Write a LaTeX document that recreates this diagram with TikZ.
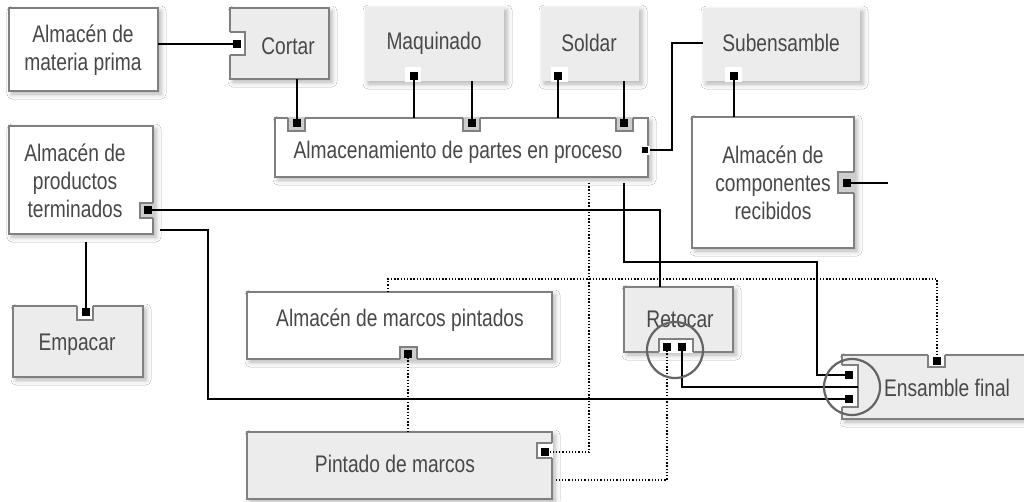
\documentclass[tikz,border=0pt]{standalone}
\usepackage{fontspec}
\setmainfont[FakeStretch=0.8]{Liberation Sans}
\usetikzlibrary{shadows.blur}
\definecolor{txt}{RGB}{72,72,72}
\definecolor{bordc}{RGB}{128,128,128}
\definecolor{gfill}{RGB}{236,236,236}
\definecolor{nfill}{RGB}{205,205,205}
\definecolor{circc}{RGB}{100,100,100}
\newcommand\mynotchT[5]{\fill[#5] (#1,#3-1) rectangle (#2,#4); \draw[outl] (#1,#3) -- (#1,#4) -- (#2,#4) -- (#2,#3);}
\newcommand\mynotchB[5]{\fill[#5] (#1,#3+1) rectangle (#2,#4); \draw[outl] (#1,#3) -- (#1,#4) -- (#2,#4) -- (#2,#3);}
\newcommand\mynotchL[5]{\fill[#5] (#3-1,#1) rectangle (#4,#2); \draw[outl] (#3,#1) -- (#4,#1) -- (#4,#2) -- (#3,#2);}
\newcommand\mynotchR[5]{\fill[#5] (#3+1,#1) rectangle (#4,#2); \draw[outl] (#3,#1) -- (#4,#1) -- (#4,#2) -- (#3,#2);}
\begin{document}
\begin{tikzpicture}[x=1pt,y=-1pt,
  lbl/.style={text=txt, font=\fontsize{24}{28}\selectfont, align=center, inner sep=0pt},
  shad/.style={blur shadow={shadow xshift=3pt, shadow yshift=-3pt, shadow blur radius=5pt, shadow opacity=30}},
  wbox/.style={fill=white, draw=bordc, line width=1.2pt, shad},
  gbox/.style={fill=gfill, draw=bordc, line width=1.2pt, shad},
  pbox/.style={fill=gfill, draw=none, shad},
  outl/.style={draw=bordc, line width=1.2pt},
  conn/.style={draw=black, line width=1.4pt},
  tconn/.style={draw=black, line width=2.6pt},
  dconn/.style={draw=black, line width=1.3pt, dash pattern=on 1.3pt off 1.9pt},
  sq/.style={fill=black, inner sep=0pt, minimum size=7.5pt, draw=none},
  ring/.style={draw=circc, line width=2.2pt},
]
\useasboundingbox (0,0) rectangle (1024,501);
\fill[white] (0,0) rectangle (1024,501);

% ---------- boxes ----------
\path[wbox] (9,8) rectangle (158,91);
\path[gbox] (230,8) rectangle (329,79);
\mynotchL{32}{55}{230}{245}{white}
\path[pbox] (365,7) rectangle (504,81);
\fill[white] (405,67) rectangle (421,82);
\path[pbox] (541,7) rectangle (639,81);
\fill[white] (551,67) rectangle (568,82);
\path[pbox] (703,8) rectangle (860,81);
\fill[white] (725,67) rectangle (742,82);
\path[wbox] (275,118) rectangle (648,177);
\mynotchT{288}{305}{118}{131}{nfill}
\mynotchT{463}{480}{118}{131}{nfill}
\mynotchT{616}{633}{118}{131}{nfill}
\path[wbox] (9,126) rectangle (153,234);
\mynotchR{203}{218}{153}{140}{nfill}
\path[wbox] (692,117) rectangle (854,248);
\mynotchR{172}{193}{854}{838}{nfill}
\path[gbox] (13,306) rectangle (143,377);
\mynotchT{77}{93}{306}{320}{white}
\path[wbox] (247,292) rectangle (552,359);
\mynotchB{400}{417}{359}{347}{nfill}
\path[gbox] (247,432) rectangle (552,499);
\mynotchR{443}{458}{552}{537}{white}
\path[gbox] (624,287) rectangle (733,352);
\mynotchB{659}{693}{352}{339}{white}
\path[gbox] (842,355) rectangle (1040,419);
\mynotchT{928}{945}{355}{367}{white}
\mynotchL{365}{407}{842}{858}{white}

% ---------- labels ----------
\node[lbl] (tmp) at (83,50) {Almacén de\\materia prima};
\node[lbl] (tcor) at (288,46) {Cortar};
\node[lbl] (tmaq) at (434,43) {Maquinado};
\node[lbl] (tsol) at (589,43) {Soldar};
\node[lbl] (tsub) at (781,43) {Subensamble};
\node[lbl] (talm) at (458,152) {Almacenamiento de partes en proceso};
\node[lbl] (tpt) at (75,181) {Almacén de\\productos\\terminados};
\node[lbl] (tcomp) at (773,183) {Almacén de\\componentes\\recibidos};
\node[lbl] (temp) at (77,345) {Empacar};
\node[lbl] (tamp) at (400,320) {Almacén de marcos pintados};
\node[lbl] (tpin) at (395,464) {Pintado de marcos};
\node[lbl] (tret) at (680,319) {Retocar};
\node[lbl] (tens) at (947,388) {Ensamble final};

% ---------- ports ----------
\coordinate (mpE) at (158,44);   \coordinate (corW) at (237,44);
\coordinate (corS) at (297,79);  \coordinate (almN1) at (297,123);
\coordinate (maqP) at (414,76);  \coordinate (almT1) at (414,118);
\coordinate (maqS) at (472,81);  \coordinate (almN2) at (472,123);
\coordinate (solP) at (558,76);  \coordinate (almT2) at (558,118);
\coordinate (solS) at (624,81);  \coordinate (almN3) at (624,123);
\coordinate (subW) at (703,43);  \coordinate (almE) at (645,150);
\coordinate (subP) at (734,76);  \coordinate (compN) at (734,117);
\coordinate (compP) at (847,183); \coordinate (compX) at (888,183);
\coordinate (ptP) at (148,210);  \coordinate (retN) at (660,287);
\coordinate (ptE) at (160,230);  \coordinate (ensP2) at (849,399);
\coordinate (almS) at (624,183); \coordinate (bend) at (817,262);
\coordinate (ensP1) at (849,375);
\coordinate (retP2) at (682,347); \coordinate (ensM) at (858,387);
\coordinate (retP1) at (667,347); \coordinate (pinX) at (555,480);
\coordinate (almS2) at (589,183); \coordinate (pinP) at (545,452);
\coordinate (ampN) at (388,292); \coordinate (ensT) at (937,361);
\coordinate (ampP) at (408,354); \coordinate (pinN) at (408,432);
\coordinate (ptS) at (86,242);   \coordinate (empP) at (86,312);

% ---------- connectors ----------
\draw[tconn] (mpE) -- (corW);
\draw[conn] (corS) -- (almN1);
\draw[conn] (maqP) -- (almT1);
\draw[conn] (maqS) -- (almN2);
\draw[conn] (solP) -- (almT2);
\draw[conn] (solS) -- (almN3);
\draw[conn] (subW) -- ++(-31,0) |- (almE);
\draw[conn] (subP) -- (compN);
\draw[conn] (compP) -- (compX);
\draw[conn] (ptP) -| (retN);
\draw[tconn] (retN) -- ++(0,-15);
\draw[conn] (ptE) -- ++(48,0) |- (ensP2);
\draw[tconn] (ensP2) -- ++(-16,0);
\draw[conn] (almS) |- (bend) |- (ensP1);
\draw[tconn] (ensP1) -- ++(-16,0);
\draw[conn] (retP2) |- (ensM);
\draw[tconn] (ensM) -- ++(-25,0);
\draw[dconn] (retP1) |- (pinX);
\draw[dconn] (almS2) |- (pinP);
\draw[dconn] (ampN) -- ++(0,-13) -| (ensT);
\draw[dconn] (ampP) -- (pinN);
\draw[conn] (ptS) -- (empP);

% ---------- port squares ----------
\node[sq] (s1) at (corW) {};
\node[sq] (s2) at (almN1) {};
\node[sq] (s3) at (maqP) {};
\node[sq] (s4) at (almN2) {};
\node[sq] (s5) at (solP) {};
\node[sq] (s6) at (almN3) {};
\node[sq, draw=white, line width=1.5pt] (s7) at (almE) {};
\node[sq] (s8) at (subP) {};
\node[sq] (s9) at (compP) {};
\node[sq] (s10) at (ptP) {};
\node[sq] (s11) at (ensP1) {};
\node[sq] (s12) at (ensP2) {};
\node[sq] (s13) at (retP1) {};
\node[sq] (s14) at (retP2) {};
\node[sq] (s15) at (pinP) {};
\node[sq] (s16) at (ampP) {};
\node[sq] (s17) at (ensT) {};
\node[sq] (s18) at (empP) {};

% ---------- rings ----------
\draw[ring] (675,350) circle[radius=28pt];
\draw[ring] (852,387) circle[radius=28pt];
\end{tikzpicture}
\end{document}
